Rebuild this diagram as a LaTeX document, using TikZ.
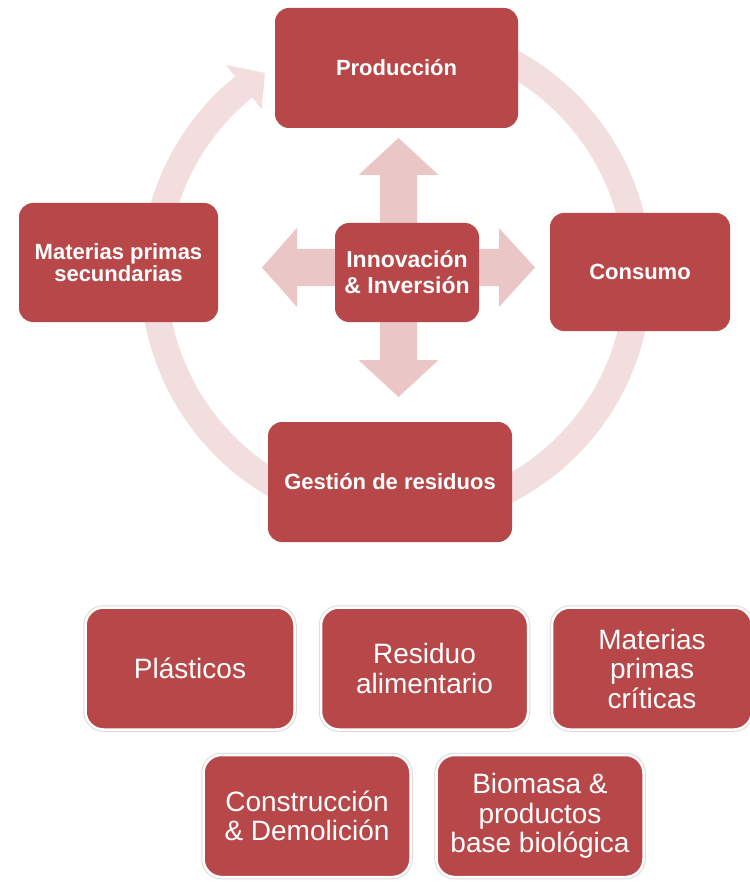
\documentclass[tikz,border=0pt]{standalone}
\usepackage{fontspec}
\setmainfont{Liberation Sans}
\definecolor{boxred}{RGB}{184,71,73}
\definecolor{ringpink}{RGB}{242,222,222}
\definecolor{arrpink}{RGB}{234,198,199}
\definecolor{shadowgray}{RGB}{226,216,216}
\begin{document}
\begin{tikzpicture}[x=1pt,y=-1pt,
  cyclebox/.style={fill=boxred, rounded corners=14pt, text=white, align=center, inner sep=0pt,
    font=\bfseries\fontsize{22}{22}\selectfont},
  areabox/.style={fill=boxred, rounded corners=18pt, text=white, align=center, inner sep=0pt,
    draw=white, line width=2.5pt, preaction={draw=shadowgray, line width=4.5pt},
    minimum width=207pt, minimum height=122pt, font=\fontsize{28}{29.5}\selectfont},
  ringstyle/.style={draw=ringpink, line width=27pt},
  blockarrow/.style={fill=arrpink}
]
\useasboundingbox (0,0) rectangle (749,882);
\fill[white] (0,0) rectangle (749,882);

% ring arrow (cycle)
\coordinate (rc) at (396,275);
\draw[ringstyle] (rc) ++(280:242) arc[start angle=280, end angle=591, radius=242];
\coordinate (hA) at (225.8,64.8);
\coordinate (hT) at (265,73);
\coordinate (hB) at (261.6,109.1);
\fill[ringpink] (hA) -- (hT) -- (hB) -- cycle;

% block arrows from the centre
\fill[blockarrow] (380,232) -- (380,175) -- (358.5,175) -- (398.5,138) -- (438.5,175) -- (417,175) -- (417,232) -- cycle;
\fill[blockarrow] (380,312) -- (380,360) -- (358.5,360) -- (398.5,397) -- (438.5,360) -- (417,360) -- (417,312) -- cycle;
\fill[blockarrow] (345,249) -- (297,249) -- (297,228) -- (262,267.5) -- (297,307) -- (297,286) -- (345,286) -- cycle;
\fill[blockarrow] (470,249) -- (499,249) -- (499,228) -- (535,267.5) -- (499,307) -- (499,286) -- (470,286) -- cycle;

% cycle boxes
\node[cyclebox, minimum width=243pt, minimum height=120pt] (prod) at (396.5,68) {Producción};
\node[cyclebox, minimum width=180pt, minimum height=118pt] (cons) at (640,272) {Consumo};
\node[cyclebox, minimum width=244pt, minimum height=120pt] (gest) at (390,482) {Gestión de residuos};
\node[cyclebox, minimum width=199pt, minimum height=119pt] (mps) at (118.5,262.5) {Materias primas\\secundarias};
\node[cyclebox, minimum width=144pt, minimum height=99pt, font=\bfseries\fontsize{23}{26}\selectfont] (inn) at (407,272.5) {Innovación\\\& Inversión};

% priority areas
\node[areabox, minimum width=209pt] (plas) at (190,668.5) {Plásticos};
\node[areabox] (resi) at (424.5,668.5) {Residuo\\alimentario};
\node[areabox, minimum width=200pt] (mpc) at (652,668.5) {Materias\\primas\\críticas};
\node[areabox] (cdem) at (307,816) {Construcción\\\& Demolición};
\node[areabox] (bio) at (540,816) {Biomasa \&\\productos\\base biológica};
\end{tikzpicture}
\end{document}
